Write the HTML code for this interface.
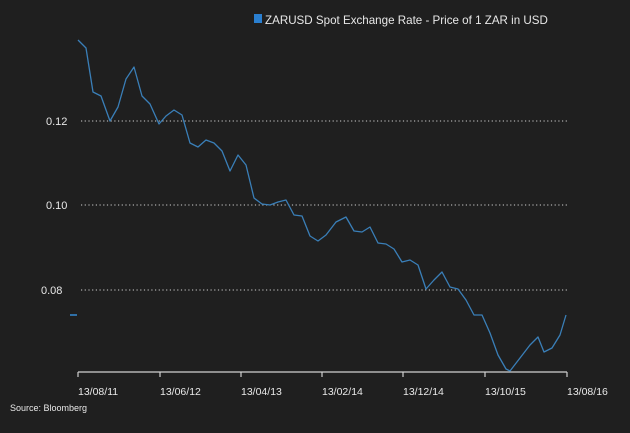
<!DOCTYPE html>
<html><head><style>
html,body{margin:0;padding:0;background:#1f1f1f;}
svg{display:block;font-family:"Liberation Sans",sans-serif;}
</style></head><body>
<svg width="630" height="433" viewBox="0 0 630 433">
<rect width="630" height="433" fill="#1f1f1f"/>
<rect x="254" y="14" width="8" height="9" fill="#2a7fd0"/>
<text x="265" y="24" fill="#e8e8e8" font-size="11.6">ZARUSD Spot Exchange Rate - Price of 1 ZAR in USD</text>
<g stroke="#cfcfcf" stroke-width="1" stroke-dasharray="1.2,2.5">
<line x1="81" y1="121" x2="568" y2="121"/>
<line x1="81" y1="205" x2="568" y2="205"/>
<line x1="81" y1="290" x2="568" y2="290"/>
</g>
<g fill="#e8e8e8" font-size="11">
<text x="46" y="125">0.12</text>
<text x="46" y="209">0.10</text>
<text x="41" y="294">0.08</text>
</g>
<line x1="70" y1="315" x2="77" y2="315" stroke="#2f6fa6" stroke-width="2"/>
<g stroke="#d0d0d0" stroke-width="1.2">
<line x1="78" y1="372" x2="567" y2="372"/>
<line x1="78" y1="372" x2="78" y2="377"/>
<line x1="160" y1="372" x2="160" y2="377"/>
<line x1="241" y1="372" x2="241" y2="377"/>
<line x1="322" y1="372" x2="322" y2="377"/>
<line x1="403" y1="372" x2="403" y2="377"/>
<line x1="485" y1="372" x2="485" y2="377"/>
<line x1="567" y1="372" x2="567" y2="377"/>
</g>
<g fill="#e8e8e8" font-size="10.5">
<text x="78" y="395">13/08/11</text>
<text x="160" y="395">13/06/12</text>
<text x="241" y="395">13/04/13</text>
<text x="322" y="395">13/02/14</text>
<text x="403" y="395">13/12/14</text>
<text x="485" y="395">13/10/15</text>
<text x="567" y="395">13/08/16</text>
</g>
<text x="10" y="411" fill="#e8e8e8" font-size="9">Source: Bloomberg</text>
<polyline fill="none" stroke="#3a7fb8" stroke-width="1.3" stroke-linejoin="round" points="78,40 86,48 93,92 101,96 110,121 118,107 126,79 134,67 142,96 150,104 159,124 166,116 174,110 182,115 190,143 198,147 206,140 214,143 222,151 230,171 238,155 246,165 254,198 262,204 270,205 278,202 286,200 294,215 302,216 310,236 318,241 326,235 336,222 346,217 354,231 362,232 370,227 378,243 386,244 394,249 402,262 410,260 418,265 426,289 434,280 442,272 450,287 458,289 466,300 474,315 482,315 490,333 498,355 506,369 510,371 520,358 530,345 538,337 544,352 552,348 560,335 566,315"/>
</svg>
</body></html>
